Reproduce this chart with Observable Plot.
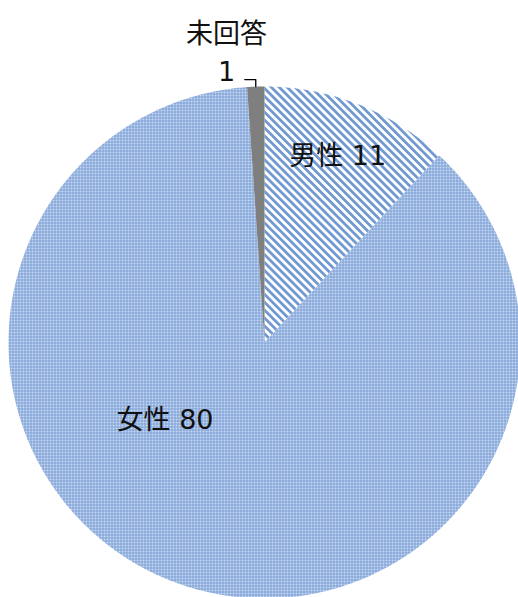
<!DOCTYPE html>
<html><head><meta charset="utf-8">
<script src="https://cdn.jsdelivr.net/npm/d3@7"></script>
<script src="https://cdn.jsdelivr.net/npm/@observablehq/plot@0.6"></script>
<style>body{margin:0;background:#fff} svg{display:block}
svg text{font-family:"DejaVu Sans","Noto Sans CJK JP",sans-serif !important;}</style>
</head><body><div id="chart"></div>
<script>
const categories = ["男性", "女性", "未回答"];
const values = [11, 80, 1];

const W = 518, H = 597;
const cx = 264, cy = 342, R = 256;
const fills = {"男性": "url(#stripe)", "女性": "url(#check)", "未回答": "#7f7f7f"};

const pie = d3.pie().sort(null).value(d => d)(values);
const slices = [];
pie.forEach((p, i) => {
  const n = Math.max(2, Math.ceil((p.endAngle - p.startAngle) / (Math.PI / 360)));
  slices.push({key: categories[i], x: 0, y: 0});
  for (let k = 0; k <= n; k++) {
    const a = p.startAngle + (p.endAngle - p.startAngle) * k / n;
    slices.push({key: categories[i], x: Math.sin(a), y: Math.cos(a)});
  }
});
const mid = p => (p.startAngle + p.endAngle) / 2;
const at = (p, r) => ({x: r * Math.sin(mid(p)), y: r * Math.cos(mid(p))});

const labels = pie.map((p, i) => ({cat: categories[i], val: values[i], p}));
const male = labels[0], female = labels[1], none = labels[2];

const mPos = at(male.p, 0.78);
const fPos = at(female.p, 0.6);
const nPos = at(none.p, 1.145);
const nEdge = at(none.p, 1.0);
const leader = [
  {x: nEdge.x, y: nEdge.y},
  {x: nEdge.x, y: 1.027},
  {x: nEdge.x - 0.043, y: 1.027}
];

const font = '"DejaVu Sans", "Noto Sans CJK JP", sans-serif';
const textOpts = {fontSize: 27, fill: "#111", textAnchor: "middle", fontFamily: font};
const chart = Plot.plot({
  width: W, height: H,
  margin: 0,
  x: {domain: [-cx / R, (W - cx) / R], axis: null},
  y: {domain: [-(H - cy) / R, cy / R], axis: null},
  style: {background: "#fff"},
  marks: [
    ...categories.map(c => Plot.line(slices.filter(d => d.key === c), {
      x: "x", y: "y", fill: fills[c], stroke: "none", curve: "linear-closed"
    })),
    Plot.line(leader, {x: "x", y: "y", stroke: "#000", strokeWidth: 1.3}),
    Plot.text([male], {...textOpts, x: () => mPos.x, y: () => mPos.y, text: d => `${d.cat} ${d.val}`}),
    Plot.text([female], {...textOpts, x: () => fPos.x, y: () => fPos.y, text: d => `${d.cat} ${d.val}`,
      dx: -48, dy: -67}),
    Plot.text([none], {...textOpts, x: () => nPos.x, y: () => nPos.y, text: d => `${d.cat}\n${d.val}`,
      lineHeight: 1.4, dx: -28})
  ]
});

const defs = document.createElementNS("http://www.w3.org/2000/svg", "defs");
defs.innerHTML = `
<pattern id="check" width="3" height="3" patternUnits="userSpaceOnUse">
  <rect width="3" height="3" fill="#7a9fd6"/>
  <rect x="1" y="1" width="2" height="2" fill="#cbd9f1"/>
</pattern>
<pattern id="stripe" width="5.6" height="5.6" patternUnits="userSpaceOnUse" patternTransform="rotate(-45)">
  <rect width="5.6" height="5.6" fill="#ffffff"/>
  <rect width="2.8" height="5.6" fill="#7199d2"/>
</pattern>`;
chart.insertBefore(defs, chart.firstChild);
document.getElementById("chart").appendChild(chart);
</script>
</body></html>
